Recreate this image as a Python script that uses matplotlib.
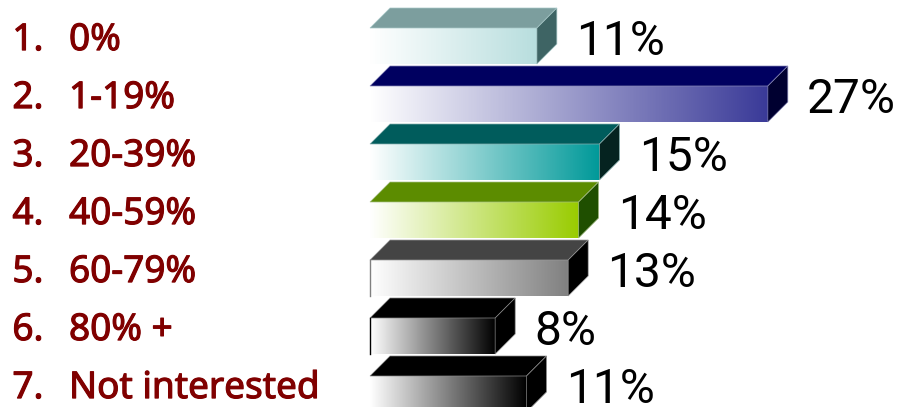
# -*- coding: utf-8 -*-
"""Horizontal 3D-look bar chart with gradient fronts, 898 x 407 px."""

import matplotlib
matplotlib.use("Agg")
import matplotlib.pyplot as plt
import matplotlib.patheffects as pe
import numpy as np
from matplotlib.colors import LinearSegmentedColormap
from matplotlib.patches import Polygon

# -----------------------------------------------------------------------------
# Data
# -----------------------------------------------------------------------------
categories = ["0%", "1-19%", "20-39%", "40-59%", "60-79%", "80% +", "Not interested"]
numbers = ["1.", "2.", "3.", "4.", "5.", "6.", "7."]
values = [11.2, 26.7, 15.4, 14.0, 13.3, 8.4, 10.5]
value_labels = ["11%", "27%", "15%", "14%", "13%", "8%", "11%"]

front_colors = ["#B8DEDE", "#3A3A98", "#009999", "#99CC00", "#808080", "#000000", "#000000"]
top_colors = ["#7C9E9E", "#000060", "#005C5C", "#5C8C00", "#444444", "#000000", "#000000"]
side_colors = ["#3E6464", "#000030", "#052320", "#1F4F00", "#000000", "#000000", "#000000"]
edge_colors = ["#A8C8C8", "#8888B8", "#88B0B0", "#A8C088", "#999999", "#888888", "#888888"]
left_edge_colors = [None, None, None, None, "#808080", "#000000", None]

# -----------------------------------------------------------------------------
# Geometry (pixels of the 898 x 407 canvas)
# -----------------------------------------------------------------------------
WIDTH, HEIGHT = 898, 407
DPI = 100
X_ZERO_PX = 370
PX_PER_UNIT = 14.9
ROW_FIRST_PX = 46
ROW_STEP_PX = 58
BAR_H = 36 / ROW_STEP_PX
DX = 20 / PX_PER_UNIT
DY = 20 / ROW_STEP_PX
LABEL_RED = "#800000"

plt.rcParams["font.family"] = ["Noto Sans", "DejaVu Sans"]

fig = plt.figure(figsize=(WIDTH / DPI, HEIGHT / DPI), dpi=DPI, facecolor="white")
ax = fig.add_axes([0, 0, 1, 1])

ramp = np.linspace(0, 1, 256).reshape(1, -1)
bold_look = [pe.withStroke(linewidth=0.8, foreground=LABEL_RED)]

for i, val in enumerate(values):
    top = i - BAR_H / 2
    bottom = i + BAR_H / 2
    cmap = LinearSegmentedColormap.from_list(f"bar{i}", ["#FFFFFF", front_colors[i]])
    ax.imshow(ramp, cmap=cmap, extent=(0, val, bottom, top), aspect="auto", zorder=2)
    ax.add_patch(Polygon([(0, top), (DX, top - DY), (val + DX, top - DY), (val, top)],
                         closed=True, facecolor=top_colors[i], edgecolor=edge_colors[i],
                         linewidth=0.5, zorder=2))
    ax.add_patch(Polygon([(val, top), (val + DX, top - DY), (val + DX, bottom - DY), (val, bottom)],
                         closed=True, facecolor=side_colors[i], edgecolor=edge_colors[i],
                         linewidth=0.5, zorder=2))
    if left_edge_colors[i]:
        ax.plot([0, 0], [top, bottom], color=left_edge_colors[i], linewidth=1.0, zorder=3)
    ax.text(val + DX + 1.3, i + 0.155, value_labels[i], fontsize=34.5, color="black",
            family="Roboto", ha="left", va="baseline", zorder=3)
    ax.text(-24, i + 0.07, numbers[i], fontsize=26.6, color=LABEL_RED,
            ha="left", va="baseline", path_effects=bold_look)
    ax.text(-20.2, i + 0.07, categories[i], fontsize=26.6, color=LABEL_RED,
            ha="left", va="baseline", path_effects=bold_look)

ax.set_xlim(-X_ZERO_PX / PX_PER_UNIT, (WIDTH - X_ZERO_PX) / PX_PER_UNIT)
ax.set_ylim((HEIGHT - ROW_FIRST_PX) / ROW_STEP_PX, -ROW_FIRST_PX / ROW_STEP_PX)
ax.axis("off")

fig.savefig("out.png", dpi=DPI, facecolor="white")
plt.close(fig)
